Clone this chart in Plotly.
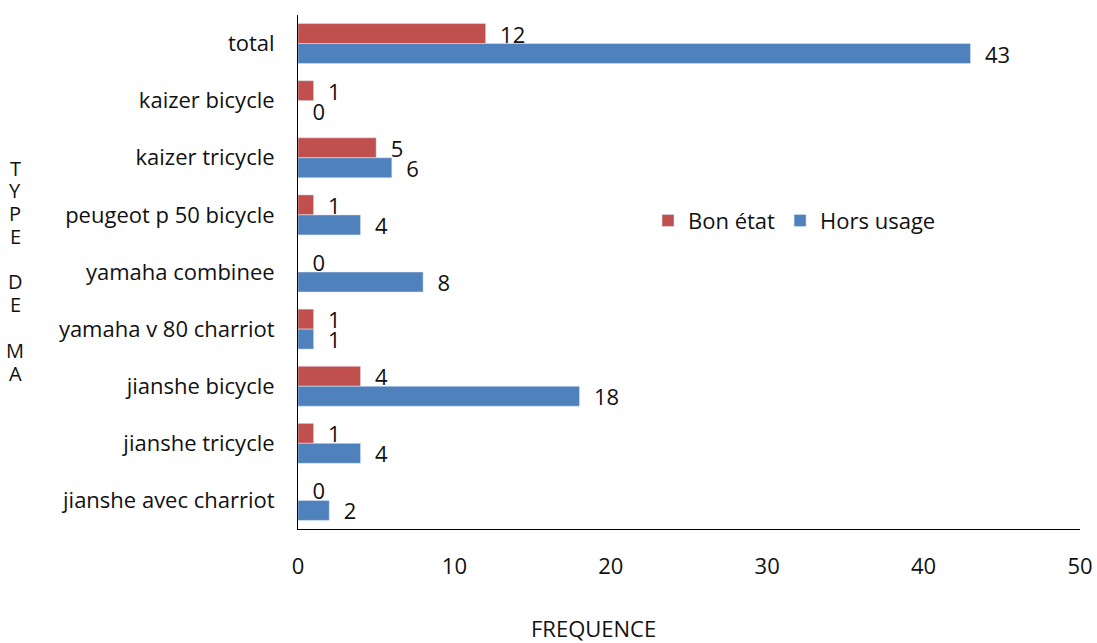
import plotly.graph_objects as go

categories = ["total", "kaizer bicycle", "kaizer tricycle", "peugeot p 50 bicycle",
              "yamaha combinee", "yamaha v 80 charriot", "jianshe bicycle",
              "jianshe tricycle", "jianshe avec charriot"]
bon_etat = [12, 1, 5, 1, 0, 1, 4, 1, 0]
hors_usage = [43, 0, 6, 4, 8, 1, 18, 4, 2]
x_ticks = [0, 10, 20, 30, 40, 50]
y_title_letters = ["T", "Y", "P", "E", "", "D", "E", "", "M", "A"]

FONT = "Open Sans"
FS = 22
fig = go.Figure()
fig.add_trace(go.Bar(
    y=categories, x=bon_etat, orientation="h", name="Bon état",
    marker=dict(color="#C0504D"), texttemplate="\u00a0\u00a0%{x}", textposition="outside",
    constraintext="none",
    textfont=dict(size=FS, color="#111111", family=FONT), cliponaxis=False,
))
fig.add_trace(go.Bar(
    y=categories, x=hors_usage, orientation="h", name="Hors usage",
    marker=dict(color="#4F81BD"), texttemplate="\u00a0\u00a0%{x}", textposition="outside",
    constraintext="none",
    textfont=dict(size=FS, color="#111111", family=FONT), cliponaxis=False,
))

PW = 1097 - 298 - 17
annotations = [
    dict(text="FREQUENCE", xref="paper", yref="paper",
         x=(593 - 298) / PW, y=(529 - 628) / 514, xanchor="center", yanchor="middle",
         showarrow=False, font=dict(size=FS, family=FONT)),
]
for i, letter in enumerate(y_title_letters):
    if letter:
        annotations.append(dict(
            text=letter, xref="paper", yref="paper",
            x=(15 - 298) / PW, y=(529 - (168 + i * 22.8)) / 514,
            xanchor="center", yanchor="middle", showarrow=False,
            font=dict(size=20, family=FONT)))

fig.update_layout(
    width=1097, height=643,
    margin=dict(l=298, r=17, t=15, b=114),
    paper_bgcolor="white", plot_bgcolor="white",
    barmode="group", bargap=0.3, bargroupgap=0,
    font=dict(family=FONT, size=FS, color="#111111"),
    showlegend=True,
    legend=dict(orientation="h", x=(648 - 298) / PW, y=0.6, xanchor="left", yanchor="middle",
                font=dict(size=FS, family=FONT), itemwidth=30,
                bgcolor="rgba(0,0,0,0)"),
    xaxis=dict(range=[0, 50], tickvals=x_ticks, ticktext=[str(v) for v in x_ticks],
               showgrid=False, zeroline=False, showline=True, linecolor="black",
               linewidth=1, ticks="outside", ticklen=18, tickcolor="rgba(0,0,0,0)",
               tickfont=dict(size=FS, family=FONT), automargin=False,
               ticklabeloverflow="allow"),
    yaxis=dict(categoryorder="array", categoryarray=categories, autorange="reversed",
               showgrid=False, zeroline=False, showline=True, linecolor="black",
               linewidth=1, ticks="outside", ticklen=18, tickcolor="rgba(0,0,0,0)",
               tickfont=dict(size=FS, family=FONT), automargin=False),
    annotations=annotations,
)

fig.write_html("out.html", config={"displayModeBar": False},
               post_script="document.body.style.margin='0';")
